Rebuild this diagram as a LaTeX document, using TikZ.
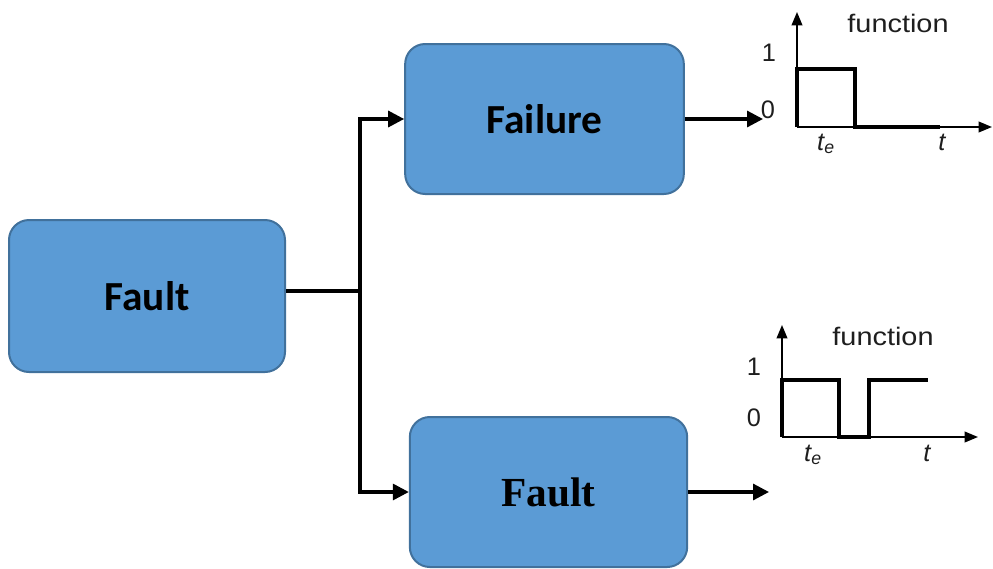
\documentclass[tikz,border=0pt]{standalone}
\usepackage{fontspec}
\setmainfont{Liberation Sans}
\newfontfamily\boxfont{Carlito}
\newfontfamily\serifbox{Liberation Serif}
\usetikzlibrary{arrows.meta}
\definecolor{boxfill}{HTML}{5B9BD5}
\definecolor{boxline}{HTML}{41719C}
\definecolor{ink}{HTML}{1E1E1E}
\tikzset{
  block/.style={draw=boxline, line width=1.5pt, fill=boxfill, rounded corners=15pt,
    inner sep=0pt, anchor=center},
  flow/.style={line width=2.4pt, line join=miter},
  flowtip/.style={-{Triangle[length=12pt,width=12pt]}},
  axis/.style={line width=1.3pt, -{Triangle[length=10pt,width=8pt]}},
  signal/.style={line width=2.6pt, line join=miter},
  lbl/.style={font=\fontsize{19}{19}\selectfont, text=ink, inner sep=0pt},
  wide/.style={xscale=1.14},
}
\begin{document}
\begin{tikzpicture}[x=0.75pt,y=-0.75pt]
\useasboundingbox (0,0) rectangle (993,568);

% main blocks
\node[block, minimum width=207pt, minimum height=114pt,
  font=\boxfont\bfseries\fontsize{31}{31}\selectfont] (fault) at (147,296) {Fault};
\node[block, minimum width=209pt, minimum height=112.5pt,
  font=\boxfont\bfseries\fontsize{31}{31}\selectfont] (failure) at (544.5,119) {Failure};
\node[block, minimum width=208pt, minimum height=112.5pt,
  font=\serifbox\bfseries\fontsize{31}{31}\selectfont] (fault2) at (548.5,492) {Fault};

% branching connectors
\coordinate (split) at (360,291);
\draw[flow] (fault.east |- split) -- (split);
\draw[flow, flowtip] (split) |- (failure.west);
\draw[flow, flowtip] (split) |- (fault2.west);
\coordinate (out1) at (763,119);
\coordinate (out2) at (769,492);
\draw[flow, flowtip] (failure.east) -- (out1);
\draw[flow, flowtip] (fault2.east) -- (out2);

% upper plot: permanent loss of function
\coordinate (o1) at (797,127);
\draw[axis] (o1) -- (797,12);
\draw[axis] (o1) -- (992,127);
\draw[signal] (o1) -- (797,69) -- (855,69) -- (855,127) -- (940,127);
\node[lbl, wide] (fn1) at (898,23) {function};
\node[lbl] (one1) at (769,53) {1};
\node[lbl] (zero1) at (768,110) {0};
\node[lbl] (te1) at (826,144) {\itshape t\textsubscript{e}};
\node[lbl] (t1) at (942,142) {\itshape t};

% lower plot: temporary loss of function
\coordinate (o2) at (782,437);
\draw[axis] (o2) -- (782,325);
\draw[axis] (o2) -- (978,437);
\draw[signal] (o2) -- (782,380) -- (839,380) -- (839,437) -- (869,437) -- (869,380) -- (928,380);
\node[lbl, wide] (fn2) at (883,336) {function};
\node[lbl] (one2) at (754,367) {1};
\node[lbl] (zero2) at (754,418) {0};
\node[lbl] (te2) at (813,455) {\itshape t\textsubscript{e}};
\node[lbl] (t2) at (927,453) {\itshape t};
\end{tikzpicture}
\end{document}
